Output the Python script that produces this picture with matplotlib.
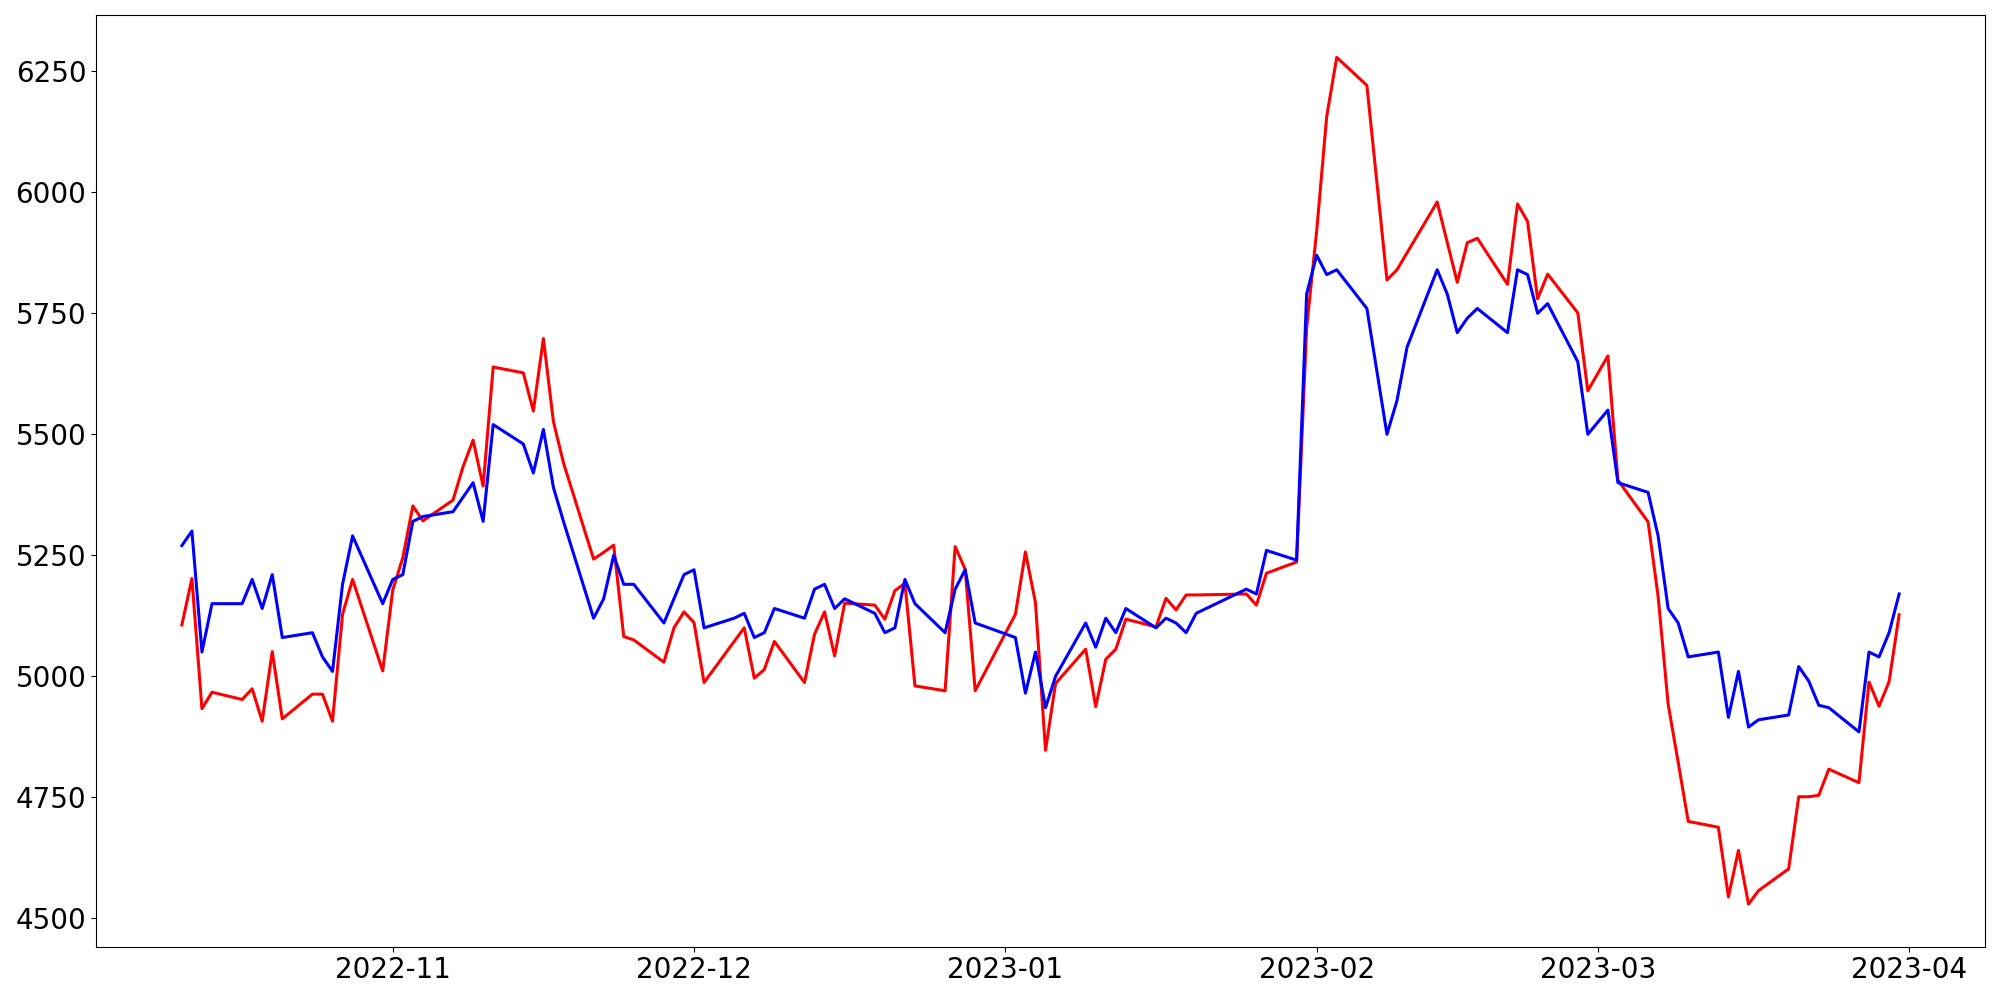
import numpy as np
import pandas as pd
import matplotlib
matplotlib.use('Agg')
import matplotlib.pyplot as plt
from matplotlib.ticker import MultipleLocator

# trading days (KRX calendar, holidays skipped)
start_day = '2022-10-11'
end_day = '2023-03-31'
holidays = ['2022-12-30', '2023-01-23', '2023-01-24', '2023-03-01']

# blue line (actual close)
actual = [
    5270, 5300, 5050, 5150, 5150, 5200, 5140, 5210, 5080, 5090, 5040, 5010, 5190, 5290, 5150,
    5200, 5210, 5320, 5330, 5340, 5370, 5400, 5320, 5520, 5480, 5420, 5510, 5390, 5320, 5120,
    5160, 5250, 5190, 5190, 5110, 5160, 5210,
    5220, 5100, 5120, 5130, 5080, 5090, 5140, 5120, 5180, 5190, 5140, 5160, 5130, 5090, 5100,
    5200, 5150, 5090, 5180, 5220, 5110,
    5080, 4965, 5050, 4935, 5000, 5110, 5060, 5120, 5090, 5140, 5100, 5120, 5110, 5090, 5130,
    5180, 5170, 5260, 5240, 5790,
    5870, 5830, 5840, 5760, 5630, 5500, 5570, 5680, 5840, 5790, 5710, 5740, 5760, 5710, 5840,
    5830, 5750, 5770, 5650, 5500,
    5550, 5400, 5380, 5290, 5140, 5110, 5040, 5050, 4915, 5010, 4895, 4910, 4920, 5020, 4990,
    4940, 4935, 4885, 5050, 5040, 5090, 5170,
]

# red line (predicted)
predicted = [
    5106, 5202, 4933, 4967, 4952, 4974, 4907, 5051, 4912, 4963, 4963, 4907, 5128, 5200, 5011,
    5178, 5245, 5352, 5321, 5364, 5433, 5488, 5393, 5639, 5627, 5548, 5698, 5526, 5441, 5242,
    5256, 5271, 5082, 5075, 5029, 5100, 5133,
    5111, 4987, 5072, 5100, 4996, 5014, 5072, 4987, 5087, 5133, 5042, 5151, 5147, 5118, 5177,
    5192, 4980, 4970, 5268, 5221, 4970,
    5128, 5257, 5152, 4847, 4985, 5056, 4937, 5035, 5056, 5118, 5102, 5161, 5137, 5168, 5168,
    5170, 5147, 5213, 5236, 5720,
    5920, 6157, 6279, 6221, 6020, 5819, 5840, 5875, 5980, 5897, 5814, 5896, 5905, 5810, 5976,
    5940, 5780, 5831, 5751, 5590,
    5662, 5405, 5319, 5165, 4942, 4822, 4700, 4688, 4544, 4640, 4529, 4557, 4602, 4751, 4751,
    4754, 4808, 4780, 4988, 4938, 4989, 5127,
]

dates = pd.date_range(start_day, end_day,
                      freq=pd.offsets.CustomBusinessDay(holidays=holidays))

fig, ax = plt.subplots(figsize=(20, 10), dpi=100)
ax.plot(dates, predicted, color='red', linewidth=2.2)
ax.plot(dates, actual, color='blue', linewidth=2.2)

ax.yaxis.set_major_locator(MultipleLocator(250))
ax.tick_params(axis='both', labelsize=20)

plt.subplots_adjust(left=0.048, right=0.9925, bottom=0.0535, top=0.985)
plt.savefig('out.png', dpi=100)
